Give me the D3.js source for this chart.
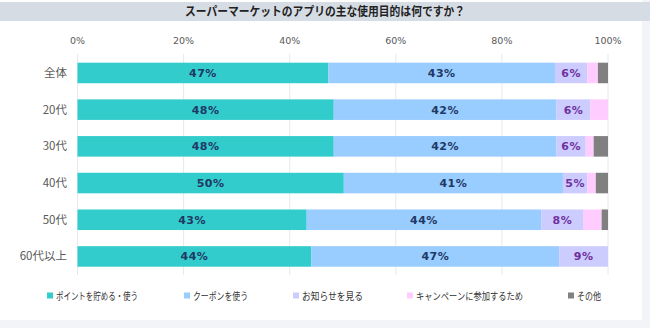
<!DOCTYPE html>
<html><head><meta charset="utf-8">
<script src="https://cdn.jsdelivr.net/npm/d3@7"></script>
<style>
html,body{margin:0;padding:0;background:#fff;}
svg{display:block;}
</style></head>
<body><svg id="c" width="650" height="328"></svg>
<script>
const title = "スーパーマーケットのアプリの主な使用目的は何ですか？";
const categories = ["全体","20代","30代","40代","50代","60代以上"];
const seriesNames = ["ポイントを貯める・使う","クーポンを使う","お知らせを見る","キャンペーンに参加するため","その他"];
const seriesColors = ["#33CCCC","#99CCFF","#CCCCFF","#FFCCFF","#808080"];
const labelColors = ["#1F3864","#1F3864","#7030A0",null,null];
const pointsUse = [47.3,48.3,48.3,50.2,43.2,44.1];
const couponUse = [42.7,42.0,42.0,41.3,44.2,46.7];
const newsView = [6.1,6.4,5.5,4.6,8.0,9.2];
const campaign = [2.0,3.3,1.5,1.6,3.4,0];
const other = [1.9,0,2.7,2.3,1.2,0];
const labelsShown = [[47,48,48,50,43,44],[43,42,42,41,44,47],[6,6,6,5,8,9]];
const ticks = [0,20,40,60,80,100];

const series = [pointsUse,couponUse,newsView,campaign,other];
const rows = categories.map((c,i)=>{const o={cat:c}; seriesNames.forEach((s,j)=>o[s]=series[j][i]); return o;});
const stack = d3.stack().keys(seriesNames)(rows);

const svg = d3.select("#c");
const jp = "'Noto Sans CJK JP','Noto Sans',sans-serif";
// frame
svg.append("rect").attr("x",0).attr("y",0).attr("width",650).attr("height",328).attr("fill","#f3f4f7");
svg.append("rect").attr("x",0).attr("y",0).attr("width",642).attr("height",320).attr("fill","#fff");
svg.append("rect").attr("x",0).attr("y",2).attr("width",650).attr("height",19).attr("fill","#D6DCE4");
svg.append("text").attr("x",325).attr("y",16).attr("text-anchor","middle")
  .attr("textLength",280).attr("lengthAdjust","spacingAndGlyphs")
  .attr("font-family",jp).attr("font-weight","bold").attr("font-size",12).attr("fill","#222").text(title);

const x = d3.scaleLinear().domain([0,100]).range([77.5,608]);
const y = d3.scaleBand().domain(categories).range([54.6,274.8]).paddingInner(0.44).paddingOuter(0.22);

// grid
svg.append("g").selectAll("line").data(ticks).join("line")
  .attr("x1",d=>x(d)).attr("x2",d=>x(d)).attr("y1",54).attr("y2",275)
  .attr("stroke","#E6E8F0").attr("stroke-width",1);
// top tick labels
svg.append("g").selectAll("text").data(ticks).join("text")
  .attr("x",d=>x(d)).attr("y",44).attr("text-anchor","middle")
  .attr("font-family","'DejaVu Sans',sans-serif").attr("font-size",9.5).attr("fill","#595959")
  .text(d=>d+"%");
// category labels
svg.append("g").selectAll("text").data(categories).join("text")
  .attr("x",67).attr("y",d=>y(d)+y.bandwidth()/2+4).attr("text-anchor","end")
  .attr("font-family",jp).attr("font-size",11.5).attr("fill","#595959").text(d=>d);

// bars
stack.forEach((s,j)=>{
  svg.append("g").selectAll("rect").data(s).join("rect")
    .attr("x",d=>x(d[0])).attr("width",d=>x(d[1])-x(d[0]))
    .attr("y",d=>y(d.data.cat)).attr("height",y.bandwidth())
    .attr("fill",seriesColors[j]);
  if(j<3){
    svg.append("g").selectAll("text").data(s).join("text")
      .attr("x",d=>(x(d[0])+x(d[1]))/2).attr("y",d=>y(d.data.cat)+y.bandwidth()/2+4)
      .attr("text-anchor","middle").attr("font-family","'DejaVu Sans',sans-serif")
      .attr("font-weight","bold").attr("font-size",11).attr("fill",labelColors[j])
      .attr("letter-spacing",0.5)
      .text((d,i)=>labelsShown[j][i]+"%");
  }
});

// legend
const legX = [47,184,293,407,568];
const legW = [82,55,61,107,24];
const lg = svg.append("g").selectAll("g").data(seriesNames).join("g")
  .attr("transform",(d,i)=>`translate(${legX[i]},296)`);
lg.append("rect").attr("x",0).attr("y",-3.5).attr("width",6).attr("height",6).attr("fill",(d,i)=>seriesColors[i]);
lg.append("text").attr("x",9).attr("y",3.5).attr("font-family",jp).attr("font-size",10)
  .attr("textLength",(d,i)=>legW[i]).attr("lengthAdjust","spacingAndGlyphs")
  .attr("fill","#333").text(d=>d);
</script></body></html>
